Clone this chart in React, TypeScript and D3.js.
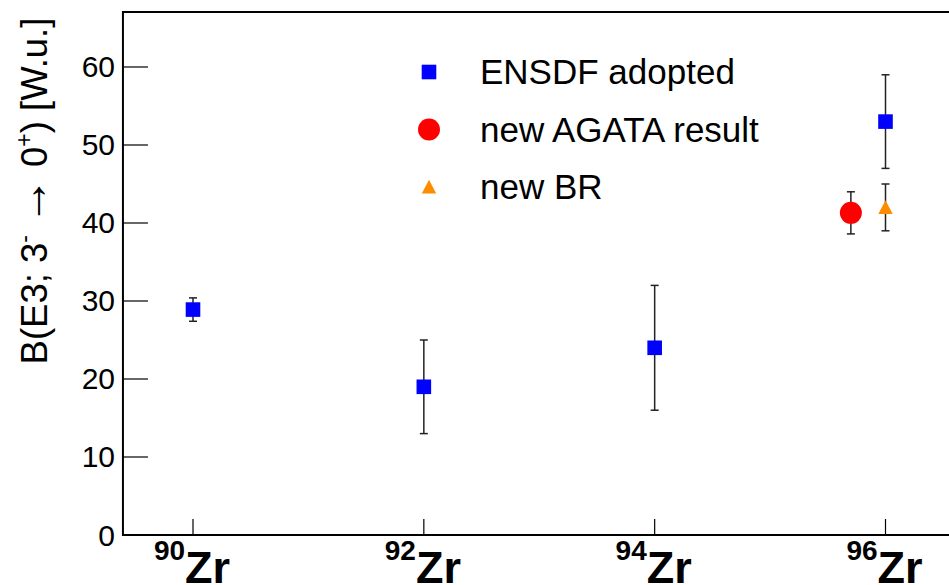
import React, { useEffect, useRef } from "react";
import * as d3 from "d3";

// isotopes on the x axis
const isotopeMass = [90, 92, 94, 96];
const isotopeLabel = ["90", "92", "94", "96"];
const yTicks = [0, 10, 20, 30, 40, 50, 60];

// ENSDF adopted values
const ensdfMass = [90, 92, 94, 96];
const ensdfValue = [28.9, 19.0, 24.0, 53.0];
const ensdfError = [1.5, 6.0, 8.0, 6.0];

// new AGATA result (drawn slightly left of 96Zr)
const agataMass = [95.7];
const agataValue = [41.3];
const agataError = [2.7];

// new BR
const brMass = [96];
const brValue = [42.0];
const brError = [3.0];

const legendItems = ["ENSDF adopted", "new AGATA result", "new BR"];

const FONT = "'Liberation Sans', Arial, Helvetica, sans-serif";

const App = () => {
  const svgRef = useRef(null);

  useEffect(() => {
    const svg = d3.select(svgRef.current);
    svg.selectAll("*").remove();

    const width = 949;
    const height = 585;

    const x = d3.scaleLinear().domain([90, 96]).range([193, 885.5]);
    const y = d3.scaleLinear().domain([0, 67.05]).range([535, 12]);

    const x0 = x(89.393);
    const x1 = x(97);

    svg.attr("width", width).attr("height", height);

    const g = svg.append("g");

    // frame
    g.append("rect")
      .attr("x", x0)
      .attr("y", y(67.05))
      .attr("width", x1 - x0)
      .attr("height", y(0) - y(67.05))
      .attr("fill", "none")
      .attr("stroke", "black")
      .attr("stroke-width", 2);

    // y ticks and labels
    yTicks.forEach((t) => {
      g.append("line")
        .attr("x1", x0)
        .attr("x2", x0 + 25)
        .attr("y1", y(t))
        .attr("y2", y(t))
        .attr("stroke", "black")
        .attr("stroke-width", 1.2);
      g.append("text")
        .attr("x", 115)
        .attr("y", y(t) + 10.5)
        .attr("text-anchor", "end")
        .attr("font-family", FONT)
        .attr("font-size", 30)
        .text(t);
    });

    // x ticks and isotope labels
    isotopeMass.forEach((m, i) => {
      g.append("line")
        .attr("x1", x(m))
        .attr("x2", x(m))
        .attr("y1", y(0))
        .attr("y2", y(0) - 16)
        .attr("stroke", "black")
        .attr("stroke-width", 1.2);
      const t = g.append("text")
        .attr("x", x(m) - 1)
        .attr("y", 583)
        .attr("text-anchor", "middle")
        .attr("font-family", FONT)
        .attr("font-weight", "bold");
      t.append("tspan")
        .attr("font-size", 28)
        .attr("dy", -23)
        .text(isotopeLabel[i]);
      t.append("tspan")
        .attr("font-size", 45)
        .attr("dy", 23)
        .text("Zr");
    });

    // y axis title
    const title = g.append("text")
      .attr("transform", `translate(47, 191) rotate(-90)`)
      .attr("text-anchor", "middle")
      .attr("font-family", FONT)
      .attr("font-size", 36.5);
    title.append("tspan").text("B(E3; 3");
    title.append("tspan").attr("font-size", 23).attr("dy", -15).text("-");
    title.append("tspan").attr("dy", 15).attr("dx", 10).attr("font-size", 48).text("\u2192");
    title.append("tspan").attr("dx", 10).text("0");
    title.append("tspan").attr("font-size", 23).attr("dy", -15).text("+");
    title.append("tspan").attr("dy", 15).text(") [W.u.]");

    const drawErrors = (ms, vs, es) => {
      ms.forEach((m, i) => {
        const cx = x(m);
        const yt = y(vs[i] + es[i]);
        const yb = y(vs[i] - es[i]);
        g.append("line")
          .attr("x1", cx).attr("x2", cx)
          .attr("y1", yt).attr("y2", yb)
          .attr("stroke", "#222")
          .attr("stroke-width", 1.5);
        [yt, yb].forEach((yy) => {
          g.append("line")
            .attr("x1", cx - 4).attr("x2", cx + 4)
            .attr("y1", yy).attr("y2", yy)
            .attr("stroke", "#222")
            .attr("stroke-width", 1.5);
        });
      });
    };

    drawErrors(ensdfMass, ensdfValue, ensdfError);
    drawErrors(agataMass, agataValue, agataError);
    drawErrors(brMass, brValue, brError);

    const square = (cx, cy) =>
      g.append("rect")
        .attr("x", cx - 7.3)
        .attr("y", cy - 7.3)
        .attr("width", 14.6)
        .attr("height", 14.6)
        .attr("fill", "#0000ff");
    const circle = (cx, cy) =>
      g.append("circle")
        .attr("cx", cx)
        .attr("cy", cy)
        .attr("r", 11)
        .attr("fill", "#ff0000");
    const triangle = (cx, cy) =>
      g.append("path")
        .attr("d", `M${cx - 7.2},${cy + 6.5} L${cx + 7.2},${cy + 6.5} L${cx},${cy - 7.2} Z`)
        .attr("fill", "#ff8c00");

    ensdfMass.forEach((m, i) => square(x(m), y(ensdfValue[i])));
    agataMass.forEach((m, i) => circle(x(m), y(agataValue[i])));
    brMass.forEach((m, i) => triangle(x(m), y(brValue[i])));

    // legend
    const markers = [square, circle, triangle];
    legendItems.forEach((label, i) => {
      const base = 84 + i * 57.5;
      markers[i](429, base - 12);
      g.append("text")
        .attr("x", 480)
        .attr("y", base)
        .attr("font-family", FONT)
        .attr("font-size", 35)
        .text(label);
    });
  }, []);

  return (
    <svg
      ref={svgRef}
      style={{ position: "absolute", left: 0, top: 0, background: "white" }}
    ></svg>
  );
};

export default App;
